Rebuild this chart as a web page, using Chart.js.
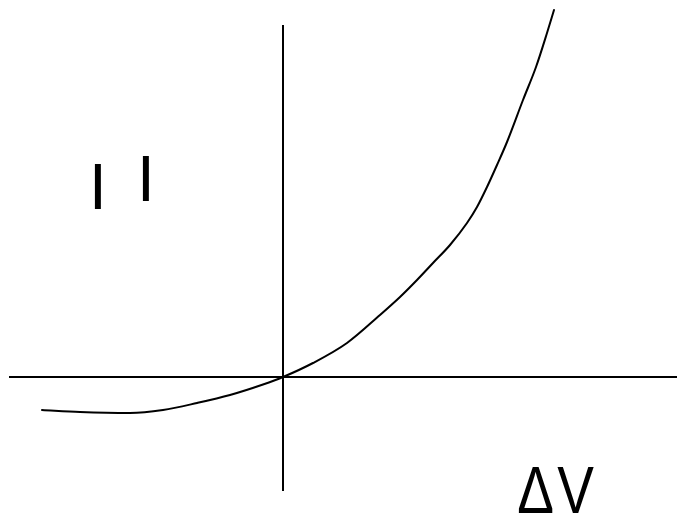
<!DOCTYPE html>
<html>
<head>
<meta charset="utf-8">
<title>I–ΔV characteristic</title>
<script src="https://cdn.jsdelivr.net/npm/chart.js@4.4.1/dist/chart.umd.min.js"></script>
<style>
  html, body { margin: 0; padding: 0; background: #ffffff; }
  #wrap { width: 677px; height: 516px; }
</style>
</head>
<body>
<div id="wrap"><canvas id="chart" width="677" height="516"></canvas></div>
<script>
// Voltage difference (ΔV) samples along the characteristic curve
const deltaV = [-4.82, -4.06, -3.06, -2.40, -1.72, -1.06, -0.40, 0.00, 0.60, 1.28, 1.94, 2.34, 2.68, 3.00, 3.34, 3.68, 3.88, 4.08, 4.28, 4.48, 4.80, 5.06, 5.28, 5.42];
// Current values at those voltages
const current = [-0.66, -0.70, -0.72, -0.66, -0.52, -0.36, -0.15, 0.00, 0.28, 0.68, 1.24, 1.60, 1.94, 2.28, 2.64, 3.08, 3.40, 3.80, 4.24, 4.70, 5.54, 6.20, 6.88, 7.34];

// Extent of the drawn coordinate axes
const xAxisExtent = [-5.48, 7.88];
const yAxisExtent = [-2.28, 7.04];

// Axis labels and the data positions where they sit
const currentLabel = ['I', 'I'];
const currentLabelAt = [[-3.70, 3.36], [-2.74, 3.52]];
const voltageLabel = 'ΔV';
const voltageLabelAt = [5.45, -2.72];

const curvePoints = deltaV.map((v, i) => ({ x: v, y: current[i] }));

const axisLabels = {
  id: 'axisLabels',
  afterDatasetsDraw(chart) {
    const { ctx, scales } = chart;
    ctx.save();
    ctx.fillStyle = '#000000';
    ctx.textBaseline = 'alphabetic';

    ctx.font = '64px "Liberation Sans", Arial, sans-serif';
    ctx.textAlign = 'center';
    currentLabel.forEach((t, i) => {
      const [vx, vy] = currentLabelAt[i];
      ctx.fillText(t, scales.x.getPixelForValue(vx), scales.y.getPixelForValue(vy));
    });

    // ΔV: slightly condensed, with a small gap between the two glyphs
    const [delta, vee] = [...voltageLabel];
    ctx.translate(scales.x.getPixelForValue(voltageLabelAt[0]), scales.y.getPixelForValue(voltageLabelAt[1]));
    ctx.scale(0.82, 1);
    ctx.font = '67px "Liberation Sans", Arial, sans-serif';
    ctx.textAlign = 'right';
    ctx.fillText(delta, -2, 0);
    ctx.textAlign = 'left';
    ctx.fillText(vee, 2, 0);
    ctx.restore();
  }
};

new Chart(document.getElementById('chart'), {
  type: 'line',
  data: {
    datasets: [
      {
        label: 'ΔV axis',
        data: [{ x: xAxisExtent[0], y: 0 }, { x: xAxisExtent[1], y: 0 }],
        borderColor: '#000000',
        borderWidth: 2,
        pointRadius: 0,
        tension: 0
      },
      {
        label: 'I axis',
        data: [{ x: 0, y: yAxisExtent[0] }, { x: 0, y: yAxisExtent[1] }],
        borderColor: '#000000',
        borderWidth: 2,
        pointRadius: 0,
        tension: 0
      },
      {
        label: 'I(ΔV)',
        data: curvePoints,
        borderColor: '#000000',
        borderWidth: 2,
        pointRadius: 0,
        cubicInterpolationMode: 'monotone',
        borderCapStyle: 'round'
      }
    ]
  },
  options: {
    responsive: false,
    devicePixelRatio: 1,
    animation: false,
    layout: { padding: 0 },
    plugins: {
      legend: { display: false },
      tooltip: { enabled: false }
    },
    scales: {
      x: { type: 'linear', min: -5.66, max: 7.88, display: false },
      y: { type: 'linear', min: -2.78, max: 7.54, display: false }
    }
  },
  plugins: [axisLabels]
});
</script>
</body>
</html>
